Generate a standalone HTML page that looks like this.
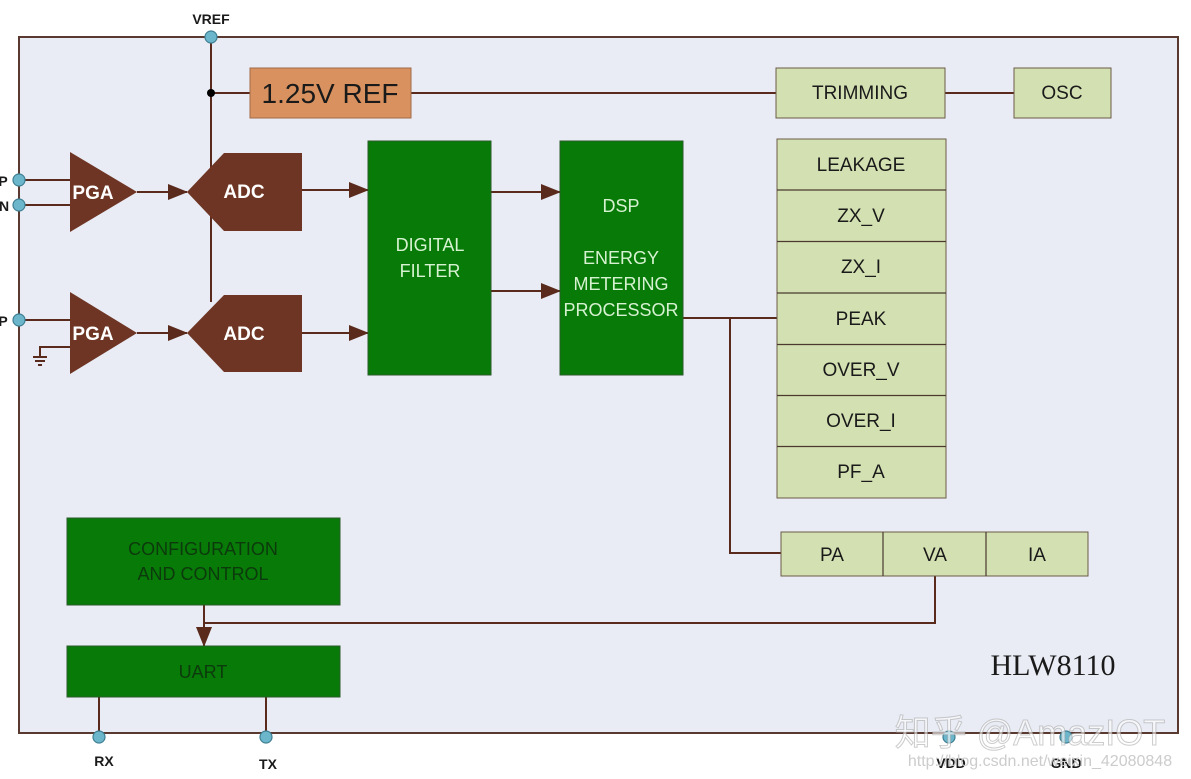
<!DOCTYPE html>
<html><head><meta charset="utf-8"><style>
html,body{margin:0;padding:0;background:#fff;width:1191px;height:779px;overflow:hidden}
svg text{font-family:"Liberation Sans","DejaVu Sans",sans-serif}
</style></head><body>
<svg width="1191" height="779" viewBox="0 0 1191 779" xmlns="http://www.w3.org/2000/svg">
<defs><marker id="ar" markerWidth="10" markerHeight="10" refX="9" refY="5" orient="auto" markerUnits="userSpaceOnUse"><path d="M0,0 L10,5 L0,10 z" fill="#5a2a1c"/></marker>
<marker id="ar2" markerWidth="20" markerHeight="16" refX="19" refY="8" orient="auto" markerUnits="userSpaceOnUse"><path d="M0,0 L20,8 L0,16 z" fill="#5a2a1c"/></marker></defs>
<rect x="19" y="37" width="1159" height="696" fill="#e9ecf4" stroke="#5a3a30" stroke-width="2"/>
<g stroke="#5a2a1c" stroke-width="2" fill="none">
<line x1="211" y1="37" x2="211" y2="302"/>
<line x1="211" y1="93" x2="250" y2="93"/>
<line x1="411" y1="93" x2="776" y2="93"/>
<line x1="945" y1="93" x2="1014" y2="93"/>
<line x1="19" y1="180" x2="70" y2="180"/>
<line x1="19" y1="205" x2="70" y2="205"/>
<line x1="19" y1="320" x2="70" y2="320"/>
<polyline points="70,347 40,347 40,357"/>
<line x1="33" y1="357" x2="47" y2="357"/><line x1="35" y1="361" x2="45" y2="361"/><line x1="38" y1="365" x2="42" y2="365"/>
<line x1="137" y1="192" x2="187" y2="192" marker-end="url(#ar2)"/>
<line x1="137" y1="333" x2="187" y2="333" marker-end="url(#ar2)"/>
<line x1="302" y1="190" x2="368" y2="190" marker-end="url(#ar2)"/>
<line x1="302" y1="333" x2="368" y2="333" marker-end="url(#ar2)"/>
<line x1="491" y1="192" x2="560" y2="192" marker-end="url(#ar2)"/>
<line x1="491" y1="291" x2="560" y2="291" marker-end="url(#ar2)"/>
<line x1="683" y1="318" x2="777" y2="318"/>
<polyline points="730,318 730,553 781,553"/>
<polyline points="935,576 935,623 204,623"/>
<line x1="204" y1="605" x2="204" y2="646" marker-end="url(#ar2)"/>
<line x1="99" y1="697" x2="99" y2="737"/>
<line x1="266" y1="697" x2="266" y2="737"/>
</g>
<circle cx="211" cy="93" r="4" fill="#000"/>
<rect x="250" y="68" width="161" height="50" fill="#d9925f" stroke="#a06a48"/>
<text x="330" y="103" font-size="28" text-anchor="middle" fill="#1a1a1a">1.25V REF</text>
<g fill="#d3e0b1" stroke="#6a5a48">
<rect x="776" y="68" width="169" height="50"/><rect x="1014" y="68" width="97" height="50"/>
<rect x="777" y="139" width="169" height="359"/>
<rect x="781" y="532" width="307" height="44"/>
</g>
<g stroke="#4a3a30" stroke-width="1.2">
<line x1="777" y1="190" x2="946" y2="190"/><line x1="777" y1="241.5" x2="946" y2="241.5"/><line x1="777" y1="293" x2="946" y2="293"/><line x1="777" y1="344.5" x2="946" y2="344.5"/><line x1="777" y1="395.5" x2="946" y2="395.5"/><line x1="777" y1="446.5" x2="946" y2="446.5"/>
<line x1="883" y1="532" x2="883" y2="576"/><line x1="986" y1="532" x2="986" y2="576"/>
</g>
<g font-size="19" text-anchor="middle" fill="#1a1a1a">
<text x="860" y="99">TRIMMING</text><text x="1062" y="99">OSC</text>
<text x="861" y="171">LEAKAGE</text><text x="861" y="222">ZX_V</text><text x="861" y="273">ZX_I</text><text x="861" y="325">PEAK</text><text x="861" y="376">OVER_V</text><text x="861" y="427">OVER_I</text><text x="861" y="478">PF_A</text>
<text x="832" y="561">PA</text><text x="935" y="561">VA</text><text x="1037" y="561">IA</text>
</g>
<g fill="#6e3524">
<polygon points="70,152 137,192 70,232"/><polygon points="70,292 137,333 70,374"/>
<polygon points="187,192 224,153 302,153 302,231 224,231"/><polygon points="187,333 224,295 302,295 302,372 224,372"/>
</g>
<g font-size="19" font-weight="bold" fill="#fff" text-anchor="middle">
<text x="93" y="199">PGA</text><text x="93" y="340">PGA</text><text x="244" y="198">ADC</text><text x="244" y="340">ADC</text>
</g>
<g fill="#087a08" stroke="#2a5a2a">
<rect x="368" y="141" width="123" height="234"/><rect x="560" y="141" width="123" height="234"/>
<rect x="67" y="518" width="273" height="87"/><rect x="67" y="646" width="273" height="51"/>
</g>
<g font-size="18" fill="#d6f2d0" text-anchor="middle">
<text x="430" y="251">DIGITAL</text><text x="430" y="277">FILTER</text>
<text x="621" y="212">DSP</text><text x="621" y="264">ENERGY</text><text x="621" y="290">METERING</text><text x="621" y="316">PROCESSOR</text>
</g>
<g font-size="18" fill="#0c3a0c" text-anchor="middle">
<text x="203" y="555">CONFIGURATION</text><text x="203" y="580">AND CONTROL</text><text x="203" y="678">UART</text>
</g>
<g fill="#6cb6cc" stroke="#3f7f93" stroke-width="1.2">
<circle cx="211" cy="37" r="6"/><circle cx="19" cy="180" r="6"/><circle cx="19" cy="205" r="6"/><circle cx="19" cy="320" r="6"/>
<circle cx="99" cy="737" r="6"/><circle cx="266" cy="737" r="6"/><circle cx="949" cy="737" r="6"/><circle cx="1066" cy="737" r="6"/>
</g>
<g font-size="14" font-weight="bold" fill="#1a1a1a" text-anchor="middle">
<text x="211" y="24">VREF</text><text x="104" y="766">RX</text><text x="268" y="769">TX</text><text x="951" y="768">VDD</text><text x="1066" y="768">GND</text>
<text x="3" y="186">P</text><text x="4" y="211">N</text><text x="3" y="326">P</text>
</g>
<text x="1053" y="675" font-size="30" text-anchor="middle" font-family="Liberation Serif,serif" fill="#1a1a1a" style="font-family:'Liberation Serif',serif">HLW8110</text>
<text x="1030" y="745" font-size="36" text-anchor="middle" fill="#ffffff" fill-opacity="0.6" stroke="#999" stroke-opacity="0.5" style="font-family:'Liberation Sans','Noto Sans CJK SC',sans-serif">知乎 @AmazIOT</text>
<text x="1040" y="766" font-size="16" text-anchor="middle" fill="#ccc">http://blog.csdn.net/weixin_42080848</text>
</svg>
</body></html>
